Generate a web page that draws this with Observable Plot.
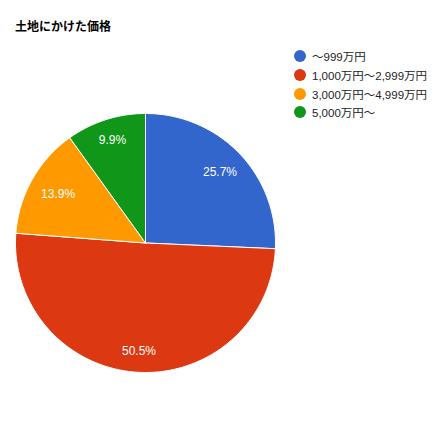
<!DOCTYPE html>
<html>
<head>
<meta charset="utf-8">
<script src="https://cdn.jsdelivr.net/npm/d3@7"></script>
<script src="https://cdn.jsdelivr.net/npm/@observablehq/plot@0.6"></script>
<style>
body { margin: 0; background: #fff; font-family: Arial, "Liberation Sans", "Noto Sans CJK JP", sans-serif; }
#wrap { position: relative; width: 435px; height: 435px; }
#title { position: absolute; left: 15px; top: 17px; font-size: 12px; font-weight: bold; color: #000; font-family: Arial, "Liberation Sans", "Noto Sans CJK JP", sans-serif; }
#legend { position: absolute; left: 294px; top: 47px; font-size: 11.5px; color: #222; }
.row { display: flex; align-items: center; height: 18.7px; white-space: nowrap; }
.sw { width: 12px; height: 12px; border-radius: 50%; margin-right: 6px; flex: none; }
#chart { position: absolute; left: 0; top: 0; }
</style>
</head>
<body>
<div id="wrap">
  <div id="chart"></div>
  <div id="title">土地にかけた価格</div>
  <div id="legend"></div>
</div>
<script>
const categories = ["～999万円", "1,000万円～2,999万円", "3,000万円～4,999万円", "5,000万円～"];
const values = [25.7, 50.5, 13.9, 9.9];
const colors = ["#3366cc", "#dc3912", "#ff9900", "#109618"];

const total = d3.sum(values);
let acc = 0;
const slices = values.map((v, i) => {
  const a0 = acc / total * 2 * Math.PI;
  acc += v;
  const a1 = acc / total * 2 * Math.PI;
  return {category: categories[i], value: v, color: colors[i], a0, a1};
});

// polygon points (unit-circle data space) for each slice
const polys = slices.map(s => {
  const n = Math.max(2, Math.ceil((s.a1 - s.a0) / (Math.PI / 180)));
  const pts = [{x: 0, y: 0}];
  for (let k = 0; k <= n; k++) {
    const a = s.a0 + (s.a1 - s.a0) * k / n;
    pts.push({x: Math.sin(a), y: Math.cos(a)});
  }
  pts.push({x: 0, y: 0});
  return pts;
});

const labels = slices.map(s => {
  const m = (s.a0 + s.a1) / 2;
  const c = Math.cos(m);
  const r = 0.75 + 0.09 * c * c;
  return {x: r * Math.sin(m), y: r * c, text: s.value.toFixed(1) + "%"};
});

const plot = Plot.plot({
  width: 435,
  height: 435,
  marginLeft: 15,
  marginRight: 160,
  marginTop: 113,
  marginBottom: 63,
  x: {domain: [-1, 1], axis: null},
  y: {domain: [-1, 1], axis: null},
  style: {background: "transparent", fontFamily: "Arial, 'Liberation Sans', sans-serif"},
  marks: [
    ...polys.map((p, i) => Plot.line(p, {x: "x", y: "y", fill: colors[i], stroke: "#fff", strokeWidth: 1, curve: "linear"})),
    Plot.text(labels, {x: "x", y: "y", text: "text", fill: "#fff", fontSize: 12})
  ]
});
document.getElementById("chart").appendChild(plot);

const legend = document.getElementById("legend");
categories.forEach((c, i) => {
  const row = document.createElement("div");
  row.className = "row";
  const sw = document.createElement("span");
  sw.className = "sw";
  sw.style.background = colors[i];
  const t = document.createElement("span");
  t.textContent = c;
  row.appendChild(sw);
  row.appendChild(t);
  legend.appendChild(row);
});
</script>
</body>
</html>
